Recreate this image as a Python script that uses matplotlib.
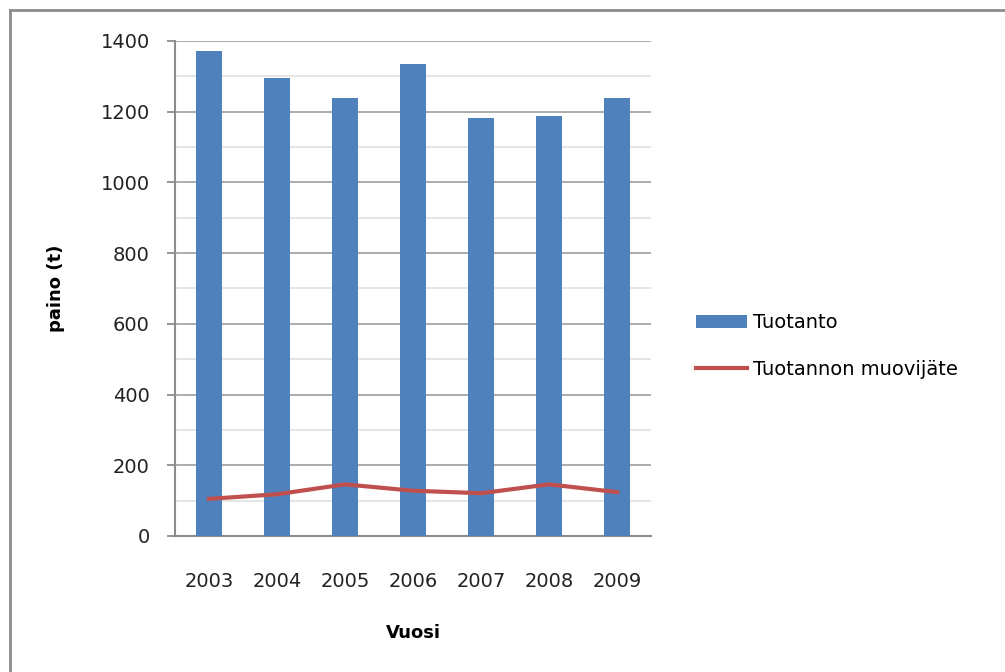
import numpy as np
import matplotlib.pyplot as plt
from matplotlib.lines import Line2D

# Tuotanto ja tuotannon muovijäte vuosittain (t)
vuodet = ["2003", "2004", "2005", "2006", "2007", "2008", "2009"]
tuotanto = [1372, 1294, 1240, 1335, 1181, 1187, 1238]
muovijate = [105, 118, 146, 128, 121, 146, 124]

plt.rcParams['font.family'] = ['DejaVu Sans']

fig = plt.figure(figsize=(10.05, 6.72), dpi=100)
ax = fig.add_axes([0.174, 0.2024, 0.474, 0.7366])

x = np.arange(len(vuodet))
palkit = ax.bar(x, tuotanto, width=0.38, color="#4F81BD", label="Tuotanto", zorder=3)
viiva, = ax.plot(x, muovijate, color="#C0504D", linewidth=3, label="Tuotannon muovijäte", zorder=4)

ax.set_xlim(-0.5, 6.5)
ax.set_ylim(0, 1400)
ax.set_xticks(x)
ax.set_xticklabels(vuodet)
ax.set_yticks(np.arange(0, 1401, 200))
ax.set_yticks(np.arange(100, 1400, 200), minor=True)

# ruudukko
ax.grid(axis="y", which="major", color="#A6A6A6", linewidth=1.3, zorder=0)
ax.grid(axis="y", which="minor", color="#E3E3E3", linewidth=1.3, zorder=0)

for s in ["top", "right"]:
    ax.spines[s].set_visible(False)
for s in ["left", "bottom"]:
    ax.spines[s].set_color("#8C8C8C")
    ax.spines[s].set_linewidth(1.5)

ax.tick_params(axis="y", which="major", length=6, width=1.3, color="#8C8C8C",
               pad=12, labelsize=14, labelcolor="#222222")
ax.tick_params(axis="y", which="minor", length=0)
ax.tick_params(axis="x", length=0, pad=26, labelsize=14, labelcolor="#222222")

ax.set_ylabel("paino (t)", fontsize=13, fontweight="bold")
ax.yaxis.set_label_coords(-0.231, 0.5)
ax.set_xlabel("Vuosi", fontsize=13, fontweight="bold")
ax.xaxis.set_label_coords(0.5, -0.178)

ax.legend(handles=[palkit, viiva], loc="center left", bbox_to_anchor=(0.683, 0.485),
          bbox_transform=fig.transFigure, frameon=False, fontsize=14,
          handlelength=2.6, handletextpad=0.3, labelspacing=1.4, borderpad=0)

# kehys
fig.add_artist(Line2D([10 / 1005, 1], [1 - 10 / 672, 1 - 10 / 672],
                      transform=fig.transFigure, color="#8C8C8C", linewidth=2))
fig.add_artist(Line2D([10 / 1005, 10 / 1005], [0, 1 - 10 / 672],
                      transform=fig.transFigure, color="#8C8C8C", linewidth=2))

fig.savefig("out.png", dpi=100)
